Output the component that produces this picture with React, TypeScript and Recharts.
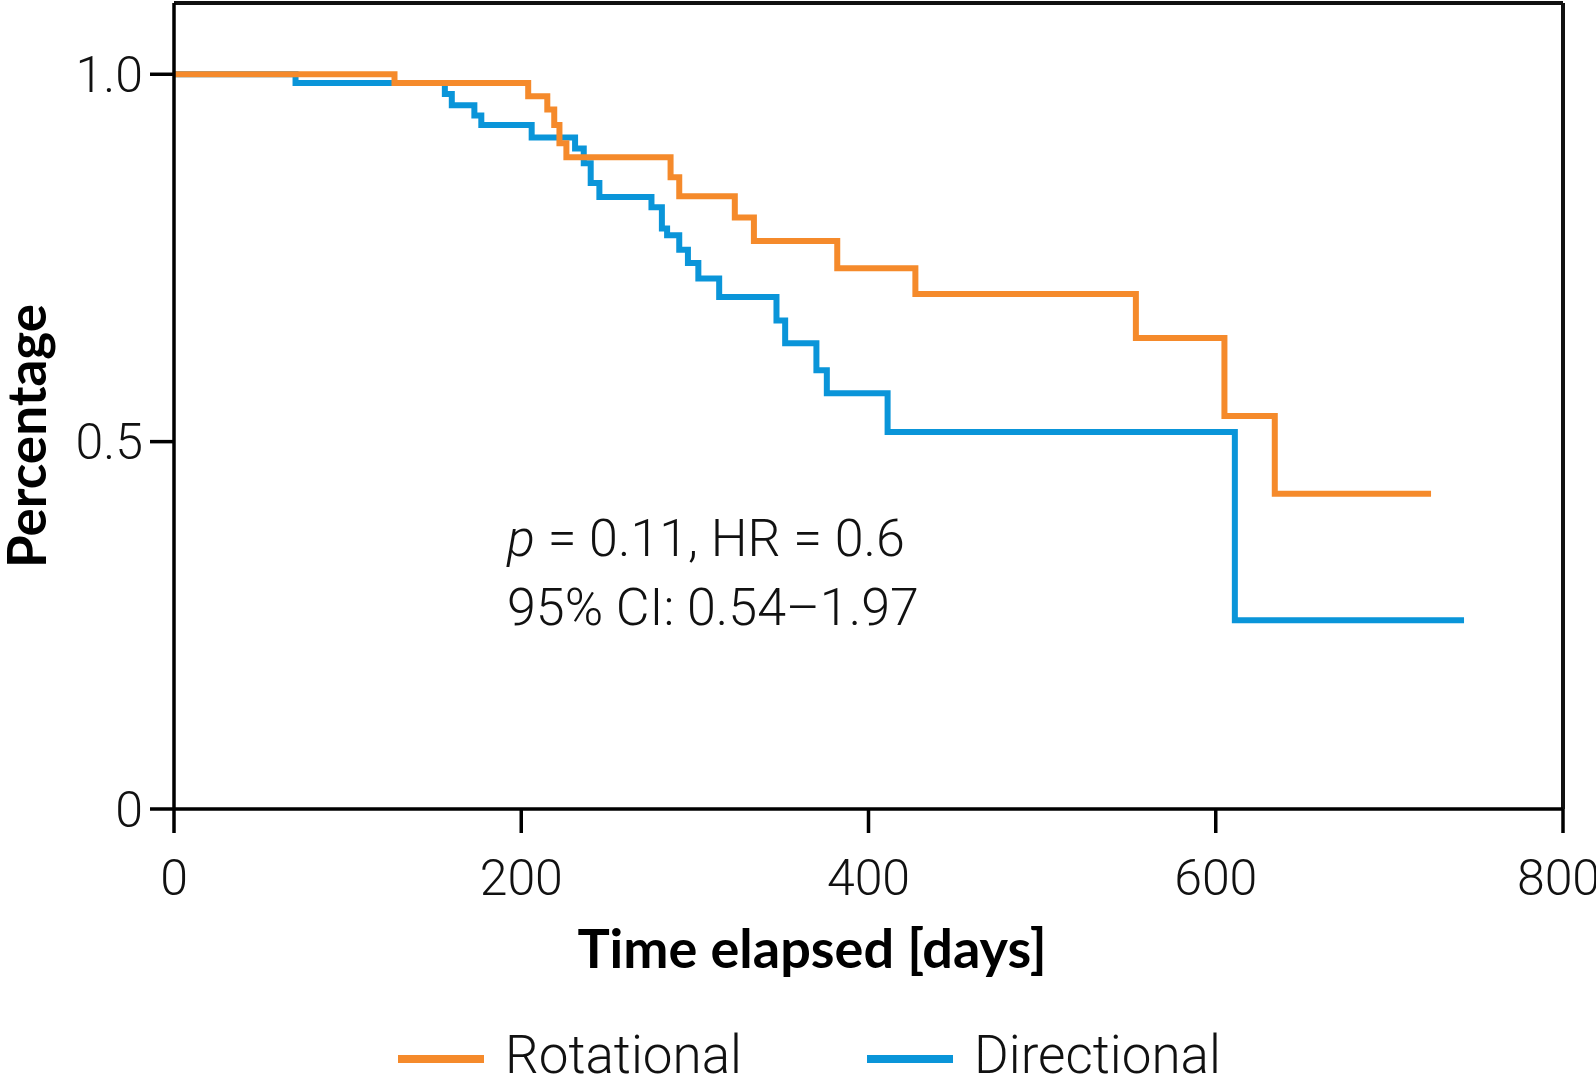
import { LineChart, Line, XAxis, YAxis, ReferenceLine, Legend, Label } from "recharts";

// Kaplan-Meier steps (days, survival fraction)
const rotationalDays = [0, 127, 204, 215, 219, 222, 226, 286, 291, 323, 334, 382, 427, 554, 605, 634, 724];
const rotationalSurv = [1.0, 0.988, 0.97, 0.952, 0.931, 0.906, 0.887, 0.86, 0.834, 0.805, 0.773, 0.736, 0.701, 0.641, 0.535, 0.429, 0.429];

const directionalDays = [0, 70, 156, 160, 173, 177, 206, 231, 236, 240, 245, 275, 281, 284, 291, 296, 302, 314, 347, 352, 370, 376, 411, 611, 743];
const directionalSurv = [1.0, 0.988, 0.973, 0.958, 0.944, 0.931, 0.914, 0.899, 0.879, 0.852, 0.833, 0.819, 0.79, 0.781, 0.761, 0.743, 0.722, 0.697, 0.665, 0.634, 0.597, 0.566, 0.513, 0.257, 0.257];

const xTicks = [0, 200, 400, 600, 800];
const yTicks = [0, 0.5, 1.0];
const yTickLabels: Record<number, string> = { 0: "0", 0.5: "0.5", 1: "1.0" };
const Y_MAX = 1.097;

const ORANGE = "#F58A2B";
const BLUE = "#0A95D9";
const TICK_FONT = "Roboto, sans-serif";
const TITLE_FONT = "Lato, sans-serif";

const rotational = rotationalDays.map((day, i) => ({ day, value: rotationalSurv[i] }));
const directional = directionalDays.map((day, i) => ({ day, value: directionalSurv[i] }));

const legendItems = [
  { name: "Rotational", color: ORANGE, left: 398 },
  { name: "Directional", color: BLUE, left: 867 },
];

function LegendContent() {
  return (
    <div style={{ position: "relative", width: 1596, height: 60 }}>
      {legendItems.map((item) => (
        <div
          key={item.name}
          style={{
            position: "absolute",
            left: item.left,
            top: 0,
            display: "flex",
            alignItems: "center",
            fontFamily: TICK_FONT,
            fontWeight: 300,
            fontSize: 53,
            color: "#111",
            whiteSpace: "nowrap",
          }}
        >
          <span style={{ display: "inline-block", width: 86, height: 8, background: item.color, marginRight: 21, marginTop: 8 }} />
          {item.name}
        </div>
      ))}
    </div>
  );
}

export default function App() {
  return (
    <div style={{ position: "absolute", left: 0, top: 0, width: 1596, height: 1077, background: "#fff", overflow: "hidden" }}>
      <LineChart width={1596} height={1077} margin={{ top: 3, right: 33, bottom: 208, left: 0 }}>
        <XAxis
          dataKey="day"
          type="number"
          domain={[0, 800]}
          ticks={xTicks}
          allowDuplicatedCategory={false}
          height={60}
          tickSize={24}
          tickMargin={26}
          axisLine={{ stroke: "#000", strokeWidth: 3.5 }}
          tickLine={{ stroke: "#000", strokeWidth: 3.5 }}
          tick={{ fill: "#111", fontFamily: TICK_FONT, fontWeight: 300, fontSize: 50 }}
        >
          <Label
            content={() => (
              <text x={812} y={968} textAnchor="middle" fontFamily={TITLE_FONT} fontWeight={700} fontSize={54} fill="#000">
                Time elapsed [days]
              </text>
            )}
          />
        </XAxis>
        <YAxis
          type="number"
          domain={[0, Y_MAX]}
          ticks={yTicks}
          width={174}
          tickSize={24}
          tickMargin={7}
          tickFormatter={(v: number) => yTickLabels[v] ?? String(v)}
          axisLine={{ stroke: "#000", strokeWidth: 3.5 }}
          tickLine={{ stroke: "#000", strokeWidth: 3.5 }}
          tick={{ fill: "#111", fontFamily: TICK_FONT, fontWeight: 300, fontSize: 50 }}
        >
          <Label
            content={() => (
              <text
                x={46}
                y={436}
                transform="rotate(-90 46 436)"
                textAnchor="middle"
                fontFamily={TITLE_FONT}
                fontWeight={700}
                fontSize={53}
                fill="#000"
              >
                Percentage
              </text>
            )}
          />
        </YAxis>
        <ReferenceLine y={Y_MAX} stroke="#111" strokeWidth={4} />
        <ReferenceLine x={800} stroke="#111" strokeWidth={4} />
        <Legend
          layout="horizontal"
          verticalAlign="middle"
          align="center"
          wrapperStyle={{ position: "absolute", left: 0, top: 1024, width: 1596 }}
          content={() => <LegendContent />}
        />
        <Line
          data={directional}
          dataKey="value"
          name="Directional"
          type="stepAfter"
          stroke={BLUE}
          strokeWidth={6}
          strokeLinecap="butt"
          strokeLinejoin="miter"
          dot={false}
          activeDot={false}
          isAnimationActive={false}
        />
        <Line
          data={rotational}
          dataKey="value"
          name="Rotational"
          type="stepAfter"
          stroke={ORANGE}
          strokeWidth={6}
          strokeLinecap="butt"
          strokeLinejoin="miter"
          dot={false}
          activeDot={false}
          isAnimationActive={false}
        />
      </LineChart>
      <div
        style={{
          position: "absolute",
          left: 507,
          top: 504,
          fontFamily: TICK_FONT,
          fontWeight: 300,
          fontSize: 52,
          lineHeight: "69px",
          color: "#111",
          whiteSpace: "nowrap",
        }}
      >
        <div>
          <i>p</i> = 0.11, HR = 0.6
        </div>
        <div>95% CI: 0.54–1.97</div>
      </div>
    </div>
  );
}
